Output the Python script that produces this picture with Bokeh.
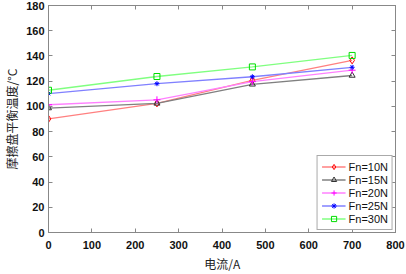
from bokeh.plotting import figure
from bokeh.models import LinearAxis, Legend, LegendItem, Range1d, FixedTicker, CustomJSTickFormatter
from bokeh.embed import file_html
from bokeh.resources import INLINE

current = [0, 250, 470, 700]
fn10 = [90.1, 102.4, 120.6, 136.5]
fn15 = [98.7, 102.4, 117.5, 124.5]
fn20 = [101.3, 105.2, 119.6, 128.7]
fn25 = [110.2, 118.0, 123.5, 131.0]
fn30 = [112.8, 123.7, 131.3, 140.4]
labels = ["Fn=10N", "Fn=15N", "Fn=20N", "Fn=25N", "Fn=30N"]
xticks = [0, 100, 200, 300, 400, 500, 600, 700, 800]
yticks = [0, 20, 40, 60, 80, 100, 120, 140, 160, 180]

series = [fn10, fn15, fn20, fn25, fn30]
line_colors = ["#ff8080", "#808080", "#ff80ff", "#8080ff", "#80ff80"]
mark_colors = ["#ff0000", "#333333", "#ff00ff", "#0000ff", "#00dd00"]
markers = ["diamond", "triangle", "cross", "asterisk", "square"]
msizes = [7, 6, 7, 5, 6]

p = figure(width=406, height=274, output_backend="svg", toolbar_location=None,
           x_range=Range1d(0, 800), y_range=Range1d(0, 180),
           min_border_left=48, min_border_right=11, min_border_top=5, min_border_bottom=39)
p.grid.visible = False
p.outline_line_color = "#888888"
p.outline_line_width = 1
p.background_fill_color = "white"
p.border_fill_color = "white"

tick_font = "Liberation Sans"
for ax, ticks in ((p.xaxis[0], xticks), (p.yaxis[0], yticks)):
    ax.ticker = FixedTicker(ticks=ticks)
    ax.major_tick_in = 4
    ax.major_tick_out = 0
    ax.minor_tick_line_color = None
    ax.axis_line_color = "#888888"
    ax.major_tick_line_color = "#888888"
    ax.major_label_text_font = tick_font
    ax.major_label_text_font_size = "11px"
    ax.major_label_text_color = "#111111"
    ax.major_label_text_font_style = "bold"
    ax.axis_label_text_font = "Noto Sans CJK SC"
    ax.axis_label_text_font_size = "12px"
    ax.axis_label_text_font_style = "normal"
    ax.axis_label_text_color = "#222222"

p.xaxis[0].axis_label = "电流/A"
p.xaxis[0].major_label_standoff = 8
p.xaxis[0].axis_label_standoff = 3
p.yaxis[0].axis_label = "摩擦盘平衡温度/°C"
p.yaxis[0].major_label_standoff = 4
p.yaxis[0].axis_label_standoff = 3

blank = CustomJSTickFormatter(code="return '';")
top = LinearAxis(ticker=FixedTicker(ticks=xticks), formatter=blank, major_tick_in=4, major_tick_out=0,
                 minor_tick_line_color=None, major_label_standoff=0,
                 axis_line_color="#888888", major_tick_line_color="#888888")
right = LinearAxis(ticker=FixedTicker(ticks=yticks), formatter=blank, major_tick_in=4, major_tick_out=0,
                   minor_tick_line_color=None, major_label_standoff=0,
                   axis_line_color="#888888", major_tick_line_color="#888888")
p.add_layout(top, "above")
p.add_layout(right, "right")

items = []
for ys, lc, mc, mk, ms, lab in zip(series, line_colors, mark_colors, markers, msizes, labels):
    r1 = p.line(current, ys, line_color=lc, line_width=1.3)
    r2 = p.scatter(current, ys, marker=mk, size=ms, line_color=mc, fill_color=None, line_width=1)
    items.append(LegendItem(label=lab, renderers=[r1, r2]))

legend = Legend(items=items, location="bottom_right", margin=2, padding=4, spacing=0,
                glyph_width=24, glyph_height=13, label_height=13, label_standoff=3,
                label_text_font=tick_font, label_text_font_size="11px", label_text_color="#111111",
                border_line_color="#555555", border_line_width=1, background_fill_color="white",
                background_fill_alpha=1)
p.add_layout(legend, "center")

open("out.html", "w").write(file_html(p, INLINE))
